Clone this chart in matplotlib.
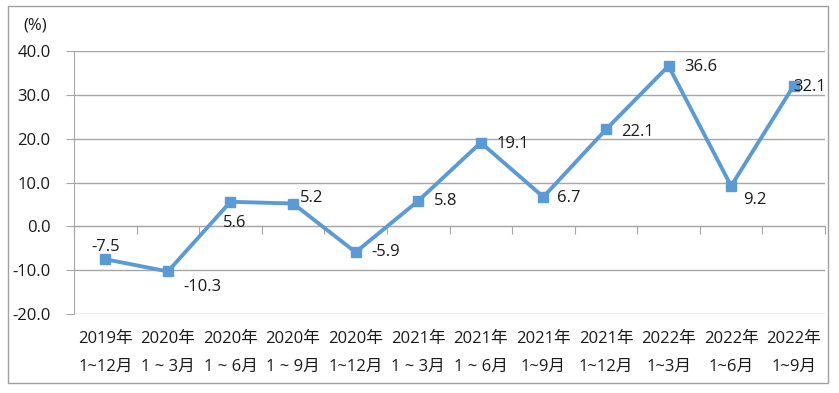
import matplotlib
matplotlib.use("Agg")
import matplotlib.pyplot as plt
from matplotlib.patches import Rectangle
import numpy as np

plt.rcParams['font.family'] = ['Open Sans', 'Noto Sans CJK SC', 'DejaVu Sans']

categories = ["2019年\n1~12月", "2020年\n1 ~ 3月", "2020年\n1 ~ 6月", "2020年\n1 ~ 9月",
              "2020年\n1~12月", "2021年\n1 ~ 3月", "2021年\n1 ~ 6月", "2021年\n1~9月",
              "2021年\n1~12月", "2022年\n1~3月", "2022年\n1~6月", "2022年\n1~9月"]
values = [-7.5, -10.3, 5.6, 5.2, -5.9, 5.8, 19.1, 6.7, 22.1, 36.6, 9.2, 32.1]
y_ticks = [-20, -10, 0, 10, 20, 30, 40]

# label offsets in points (dx, dy) and horizontal alignment
label_pos = [(0, 9, 'center'), (11, -11, 'left'), (3, -15, 'center'), (5, 4, 'left'),
             (11, 0, 'left'), (11, 0, 'left'), (11, -1, 'left'), (10, -1, 'left'),
             (11, -2, 'left'), (11, -1, 'left'), (9, -10, 'left'), (0, -1, 'left')]

color = '#5B9BD5'
grid_c = '#A6A6A6'
txt_c = '#1a1a1a'
fs = 12

fig = plt.figure(figsize=(8.39, 3.93), dpi=100)
ax = fig.add_axes([74/839, 1-314/393, (825-74)/839, (314-51)/393])

x = np.arange(len(values))
ax.plot(x, values, color=color, lw=2.8, marker='s', ms=7.5, zorder=3)

for xi, v, (dx, dy, ha) in zip(x, values, label_pos):
    ax.annotate(f"{v:.1f}", (xi, v), xytext=(dx, dy), textcoords='offset points',
                ha=ha, va='center', fontsize=fs, color=txt_c, zorder=4)

ax.set_xlim(-0.5, len(values)-0.5)
ax.set_ylim(-20, 40)
ax.set_yticks(y_ticks)
ax.set_yticklabels([f"{t:.1f}" for t in y_ticks], fontsize=fs, color=txt_c)
ax.yaxis.grid(True, color=grid_c, lw=1.0)
ax.set_axisbelow(True)
for s in ['top', 'right', 'bottom']:
    ax.spines[s].set_visible(False)
ax.spines['left'].set_color(grid_c)
ax.tick_params(axis='y', length=6, color=grid_c, pad=11)

ax.set_xticks(x)
ax.set_xticklabels(categories, fontsize=fs, color=txt_c, linespacing=2.05)
ax.tick_params(axis='x', length=0, pad=12)

# zero axis line with category boundary ticks
sec = ax.secondary_xaxis(1/3)
sec.set_xticks(np.arange(len(values)+1) - 0.5)
sec.set_xticklabels([])
sec.tick_params(axis='x', direction='out', length=6, color=grid_c)
sec.spines['bottom'].set_color(grid_c)

fig.text(23/839, 1-26/393, "(%)", fontsize=fs, color=txt_c, va='center', ha='left')

fig.patches.append(Rectangle((8/839, 1-383/393), (828-8)/839, (383-6)/393,
                             transform=fig.transFigure, fill=False, ec='#A0A0A0', lw=1.0))

fig.savefig("out.png", dpi=100)
